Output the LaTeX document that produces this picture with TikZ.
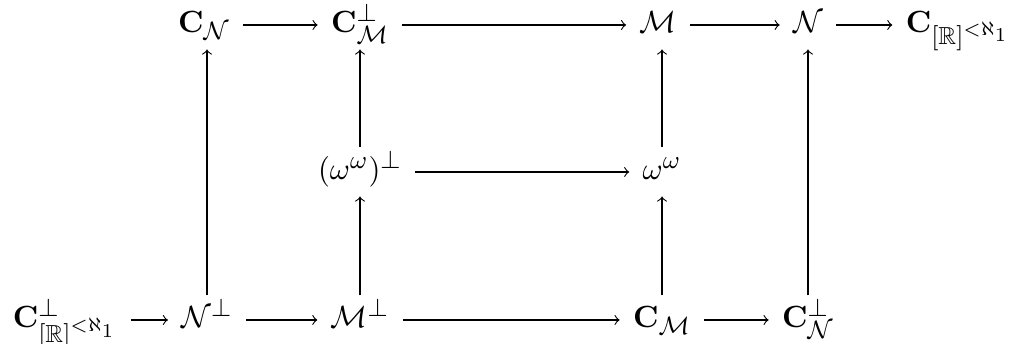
\documentclass[tikz,border=0pt]{standalone}
\usepackage{amsmath,amssymb}
\DeclareMathSizes{11.2}{11.2}{8.8}{6.8}
\newcommand{\lowsub}[1]{\smash{\raisebox{-2.6pt}{$\scriptstyle #1$}}}
\begin{document}
\begin{tikzpicture}[x=0.3571pt,y=-0.3571pt,
  obj/.style={font=\fontsize{11.2}{14}\selectfont,inner xsep=4.6pt,inner ysep=3pt,text height=8.3pt,text depth=2.8pt,anchor=center},
  arr/.style={->,line width=0.4pt}]
\useasboundingbox (0,0) rectangle (1011,344);
% top row
\node[obj] (CN) at (204,25) {$\mathbf{C}_{\mathcal{N}}$};
\node[obj] (CMp) at (360,25) {$\mathbf{C}^{\perp}_{\mathcal{M}}$};
\node[obj] (M) at (658,25) {$\mathcal{M}$};
\node[obj] (N) at (808,25) {$\mathcal{N}$};
\node[obj] (CR) at (958,25) {$\mathbf{C}_{[\mathbb{R}]^{<\aleph_1}}$};
% middle row
\node[obj] (Wp) at (360,172) {$(\omega^{\omega})^{\perp}$};
\node[obj] (W) at (662,172) {$\omega^{\omega}$};
% bottom row
\node[obj] (CRp) at (65,320) {$\mathbf{C}^{\perp}_{\lowsub{[\mathbb{R}]^{<\aleph_1}}}$};
\node[obj] (Np) at (207,320) {$\mathcal{N}^{\perp}$};
\node[obj] (Mp) at (360,320) {$\mathcal{M}^{\perp}$};
\node[obj] (CM) at (662,320) {$\mathbf{C}_{\mathcal{M}}$};
\node[obj] (CNp) at (808,320) {$\mathbf{C}^{\perp}_{\mathcal{N}}$};
% horizontal arrows
\draw[arr] (CN) -- (CMp);
\draw[arr] (CMp) -- (M);
\draw[arr] (M) -- (N);
\draw[arr] (N) -- (CR);
\draw[arr] (Wp) -- (W);
\draw[arr] (CRp) -- (Np);
\draw[arr] (Np) -- (Mp);
\draw[arr] (Mp) -- (CM);
\draw[arr] (CM) -- (CNp);
% vertical arrows
\draw[arr] (Np) -- (Np |- CN.south);
\draw[arr] (Mp) -- (Wp);
\draw[arr] (Wp) -- (CMp);
\draw[arr] (CM) -- (W);
\draw[arr] (W) -- (W |- M.south);
\draw[arr] (CNp) -- (N);
\end{tikzpicture}
\end{document}
